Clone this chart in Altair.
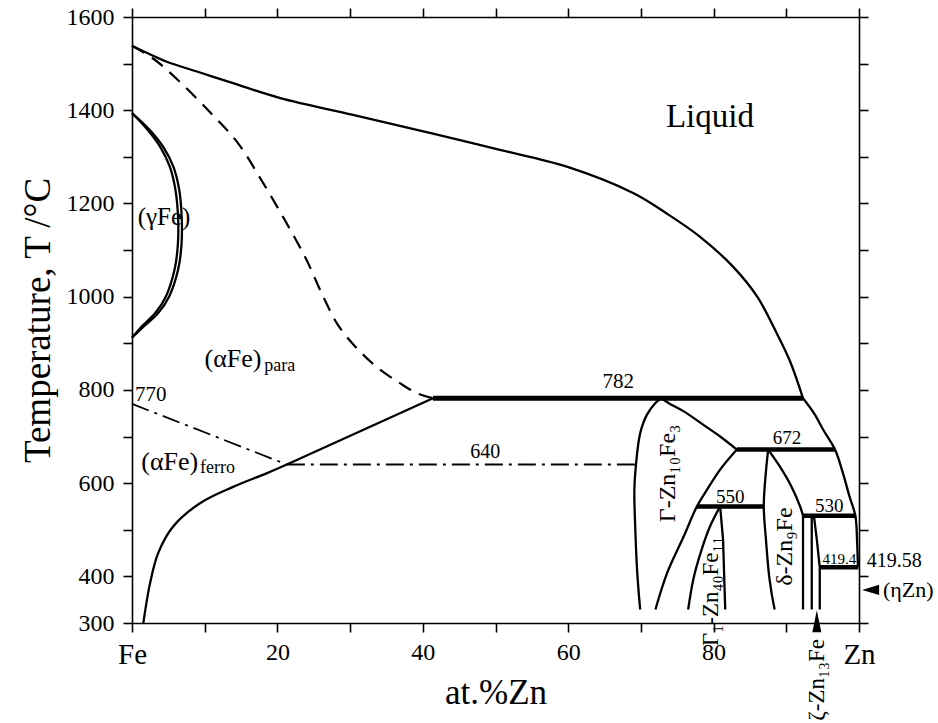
import altair as alt
import pandas as pd

# ---------------- phase-boundary data (x = at.% Zn, T = °C) ----------------
liq_fe_x = [0, 2.9, 4.77, 9.35, 13.9, 20.4, 30.4, 41.4, 50.6, 59.8, 69.0, 73.5, 78.1, 82.7, 86.0, 88.7, 90.5, 92.3]
liq_fe_T = [1538, 1517, 1504, 1481, 1458, 1426, 1390, 1350, 1315, 1279, 1222, 1179, 1129, 1064, 1000, 921, 862, 782]

liq_zn_x = [92.3, 93.8, 95.1, 96.7, 97.8, 98.7, 99.5, 99.75, 99.85]
liq_zn_T = [782, 750, 714, 672, 621, 571, 530, 470, 419.6]

para_x = [0, 2.9, 6.3, 10.9, 14.6, 17.8, 21.0, 24.0, 26.3, 28.3, 30.6, 33.6, 36.9, 39.2, 41.4]
para_T = [1538, 1511, 1465, 1393, 1329, 1250, 1165, 1079, 1000, 940, 895, 850, 814, 793, 782]

solv_a_x = [41.4, 21.3]
solv_a_T = [782, 640]
solv_b_x = [21.3, 18.5, 13.9, 9.35, 5.66, 3.6, 2.48, 1.56]
solv_b_T = [640, 621, 592, 557, 507, 450, 385, 300]

curie_x = [0, 21.3]
curie_T = [770, 640]
iso640_x = [21.3, 69.2]
iso640_T = [640, 640]

gam_out_x = [0, 2.48, 4.31, 5.69, 6.5, 6.85, 6.8, 6.37, 5.1, 3.6, 1.4, 0]
gam_out_T = [1394, 1357, 1321, 1279, 1229, 1165, 1110, 1060, 1000, 965, 933, 912]
gam_in_x = [0, 2.2, 3.9, 5.2, 5.98, 6.35, 6.3, 5.88, 4.65, 3.2, 1.15, 0]
gam_in_T = [1394, 1357, 1321, 1279, 1229, 1165, 1110, 1060, 1000, 965, 933, 912]

gl_x = [69.9, 69.5, 69.2, 69.1, 69.3, 69.9, 70.8, 72.0, 72.8]
gl_T = [329, 407, 514, 586, 636, 707, 746, 772, 782]
gu_x = [72.8, 74.0, 75.9, 78.6, 80.9, 83.2]
gu_T = [782, 770, 754, 725, 700, 672]
gr_x = [83.2, 80.9, 79.1, 77.7, 75.9, 73.6, 72.0]
gr_T = [672, 629, 586, 550, 486, 407, 329]

g1l_x = [80.9, 79.5, 78.2, 77.2, 76.5]
g1l_T = [550, 507, 450, 393, 329]
g1r_x = [80.9, 81.3, 81.6]
g1r_T = [550, 479, 329]

dl_x = [87.5, 87.1, 86.9, 87.2, 87.7, 88.4]
dl_T = [672, 607, 550, 479, 393, 329]
dr_x = [87.5, 89.1, 90.7, 91.9, 92.3]
dr_T = [672, 636, 593, 550, 530]
dv_x = [92.3, 92.3]
dv_T = [530, 329]

zl_x = [93.5, 93.5]
zl_T = [530, 329]
zr_x = [93.8, 94.2, 94.6, 94.6]
zr_T = [530, 479, 419.4, 329]

# isotherms (thick)
iso_x1 = [41.4, 83.2, 77.7, 92.3, 94.6]
iso_x2 = [92.3, 96.7, 86.9, 99.6, 99.9]
iso_T = [782, 672, 550, 530, 419.4]
iso_w = [5, 4.5, 4.5, 4.5, 4.5]

# labels
lab_c_text = ["Liquid", "(γFe)", "(αFe)", "(αFe)", "782", "640", "672", "550", "530", "419.4"]
lab_c_x = [79.5, 4.4, 13.9, 5.2, 66.9, 48.6, 90.1, 82.3, 95.9, 97.3]
lab_c_T = [1385, 1170, 866, 645, 817, 667, 696, 571, 550, 438]
lab_c_size = [33, 25, 26, 26, 21, 20, 19, 19, 19, 15]

lab_l_text = ["770", "para", "ferro", "419.58", "(ηZn)"]
lab_l_x = [0.4, 18.2, 9.35, 101.05, 103.3]
lab_l_T = [790, 851, 632, 434, 370]
lab_l_size = [21, 18, 18, 20, 22]

lab_r_text = ["Γ-Zn₁₀Fe₃", "δ-Zn₉Fe", "Γ₁-Zn₄₀Fe₁₁", "ζ-Zn₁₃Fe"]
lab_r_x = [73.7, 89.8, 79.7, 94.2]
lab_r_T = [621, 464, 368, 178]
lab_r_size = [24, 24, 23, 23]

arrow_up_x = [94.2]
arrow_up_T = [304]
arrow_left_x = [101.6]
arrow_left_T = [371]

# ---------------- build tables ----------------
smooth = [
    ("liq_fe", liq_fe_x, liq_fe_T), ("liq_zn", liq_zn_x, liq_zn_T),
    ("solv_b", solv_b_x, solv_b_T), ("gam_out", gam_out_x, gam_out_T),
    ("gam_in", gam_in_x, gam_in_T), ("gl", gl_x, gl_T), ("gu", gu_x, gu_T),
    ("gr", gr_x, gr_T), ("g1l", g1l_x, g1l_T), ("dl", dl_x, dl_T), ("dr", dr_x, dr_T),
]
straight = [
    ("solv_a", solv_a_x, solv_a_T), ("g1r", g1r_x, g1r_T), ("dv", dv_x, dv_T),
    ("zl", zl_x, zl_T), ("zr", zr_x, zr_T),
]


def table(segs):
    rows = []
    for name, xs_, ts in segs:
        for i, (a, b) in enumerate(zip(xs_, ts)):
            rows.append({"seg": name, "i": i, "x": a, "T": b})
    return pd.DataFrame(rows)


df_smooth = table(smooth)
df_straight = table(straight)
df_dash = table([("para", para_x, para_T)])
df_dashdot = table([("curie", curie_x, curie_T), ("iso640", iso640_x, iso640_T)])
df_iso = pd.DataFrame({"x": iso_x1, "x2": iso_x2, "T": iso_T, "w": iso_w})
df_lc = pd.DataFrame({"t": lab_c_text, "x": lab_c_x, "T": lab_c_T, "s": lab_c_size})
df_ll = pd.DataFrame({"t": lab_l_text, "x": lab_l_x, "T": lab_l_T, "s": lab_l_size})
df_lr = pd.DataFrame({"t": lab_r_text, "x": lab_r_x, "T": lab_r_T, "s": lab_r_size})
df_au = pd.DataFrame({"x": arrow_up_x, "T": arrow_up_T})
df_al = pd.DataFrame({"x": arrow_left_x, "T": arrow_left_T})

FONT = "Liberation Serif, 'Times New Roman', 'DejaVu Serif', serif"
xs = alt.Scale(domain=[0, 100], nice=False, zero=False)
ys = alt.Scale(domain=[300, 1600], nice=False, zero=False)

x_bottom = alt.Axis(
    values=list(range(0, 101, 10)),
    labelExpr="datum.value == 0 ? 'Fe' : datum.value == 100 ? 'Zn' : (datum.value % 20 == 0 ? datum.label : '')",
    labelFontSize={"condition": {"test": "datum.value == 0 || datum.value == 100", "value": 29}, "value": 24},
    labelFlush=False, labelPadding=8, title="at.%Zn", titleFontSize=35, titlePadding=6,
    labelOverlap=False,
)
y_left = alt.Axis(
    values=list(range(300, 1601, 100)),
    labelExpr="indexof([300,400,600,800,1000,1200,1400,1600], datum.value) >= 0 ? datum.label : ''",
    labelFontSize=24, labelPadding=9, title="Temperature, T /°C", titleFontSize=37, titlePadding=9,
    labelOverlap=False, format="d",
)
x_top = alt.Axis(orient="top", values=list(range(0, 101, 10)), labels=False, title=None)
y_right = alt.Axis(orient="right", values=list(range(300, 1601, 100)), labels=False, title=None)

thin = alt.Chart(df_smooth).mark_line(color="black", strokeWidth=2.3, interpolate="catmull-rom").encode(
    x=alt.X("x:Q", scale=xs, axis=x_bottom),
    y=alt.Y("T:Q", scale=ys, axis=y_left),
    detail="seg:N", order="i:Q",
)
thin2 = alt.Chart(df_straight).mark_line(color="black", strokeWidth=2.3).encode(
    x=alt.X("x:Q", scale=xs, axis=x_top),
    y=alt.Y("T:Q", scale=ys, axis=y_right),
    detail="seg:N", order="i:Q",
)
dashed = alt.Chart(df_dash).mark_line(color="black", strokeWidth=2.2, strokeDash=[14, 9], interpolate="catmull-rom").encode(
    x=alt.X("x:Q", scale=xs, axis=None), y=alt.Y("T:Q", scale=ys, axis=None), detail="seg:N", order="i:Q",
)
dashdot = alt.Chart(df_dashdot).mark_line(color="black", strokeWidth=1.8, strokeDash=[18, 6, 3, 6]).encode(
    x=alt.X("x:Q", scale=xs, axis=None), y=alt.Y("T:Q", scale=ys, axis=None), detail="seg:N", order="i:Q",
)
iso = alt.Chart(df_iso).mark_rule(color="black").encode(
    x=alt.X("x:Q", scale=xs, axis=None), x2="x2:Q", y=alt.Y("T:Q", scale=ys, axis=None),
    strokeWidth=alt.StrokeWidth("w:Q", scale=None, legend=None),
)
lab_c = alt.Chart(df_lc).mark_text(font=FONT, color="black", align="center", baseline="middle").encode(
    x=alt.X("x:Q", scale=xs, axis=None), y=alt.Y("T:Q", scale=ys, axis=None),
    text="t:N", size=alt.Size("s:Q", scale=None, legend=None),
)
lab_l = alt.Chart(df_ll).mark_text(font=FONT, color="black", align="left", baseline="middle").encode(
    x=alt.X("x:Q", scale=xs, axis=None), y=alt.Y("T:Q", scale=ys, axis=None),
    text="t:N", size=alt.Size("s:Q", scale=None, legend=None),
)
lab_r = alt.Chart(df_lr).mark_text(font=FONT, color="black", align="center", baseline="middle", angle=270).encode(
    x=alt.X("x:Q", scale=xs, axis=None), y=alt.Y("T:Q", scale=ys, axis=None),
    text="t:N", size=alt.Size("s:Q", scale=None, legend=None),
)
au = alt.Chart(df_au).mark_point(shape="M 0 -1 L 0.41 1 L -0.41 1 Z", size=484, filled=True, color="black", opacity=1).encode(
    x=alt.X("x:Q", scale=xs, axis=None), y=alt.Y("T:Q", scale=ys, axis=None),
)
al = alt.Chart(df_al).mark_point(shape="M -1 0 L 1 -0.6 L 1 0.6 Z", size=289, filled=True, color="black", opacity=1).encode(
    x=alt.X("x:Q", scale=xs, axis=None), y=alt.Y("T:Q", scale=ys, axis=None),
)

chart = alt.layer(thin, thin2, dashed, dashdot, iso, lab_c, lab_l, lab_r, au, al).resolve_axis(
    x="independent", y="independent"
).properties(
    width=727, height=606,
    autosize=alt.AutoSizeParams(type="none"),
    padding={"left": 132, "top": 17, "right": 79, "bottom": 100},
    background="white",
).configure_view(stroke=None).configure_axis(
    grid=False, domainColor="black", tickColor="black", labelColor="black", titleColor="black",
    labelFont=FONT, titleFont=FONT, titleFontWeight="normal", domainWidth=1.6, tickWidth=1.6, tickSize=9,
)

chart.save("out.html", embed_options={"renderer": "svg", "actions": False})
